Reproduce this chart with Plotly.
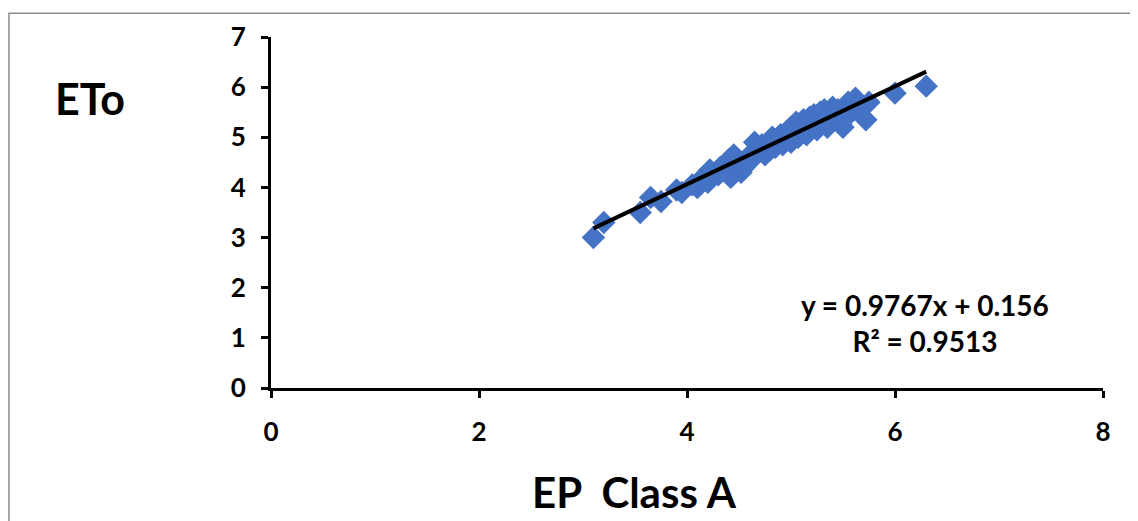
import plotly.graph_objects as go

# Data
ep_class_a = [3.10, 3.20, 3.55, 3.65, 3.75, 3.90, 3.95, 4.05, 4.10, 4.15, 4.20, 4.22, 4.30, 4.32,
              4.38, 4.40, 4.42, 4.45, 4.50, 4.52, 4.55, 4.58, 4.62, 4.65, 4.68, 4.70, 4.72, 4.75,
              4.78, 4.80, 4.82, 4.85, 4.88, 4.90, 4.92, 4.95, 4.97, 5.00, 5.00, 5.02, 5.05, 5.07,
              5.10, 5.12, 5.15, 5.18, 5.20, 5.22, 5.25, 5.28, 5.30, 5.32, 5.35, 5.38, 5.40, 5.42,
              5.45, 5.48, 5.50, 5.52, 5.55, 5.58, 5.62, 5.65, 5.72, 5.75, 6.00, 6.30]
eto = [3.00, 3.30, 3.50, 3.80, 3.72, 3.95, 3.90, 4.05, 4.00, 4.20, 4.10, 4.35, 4.25, 4.40,
       4.30, 4.55, 4.20, 4.65, 4.45, 4.30, 4.40, 4.60, 4.55, 4.90, 4.70, 4.75, 4.85, 4.65,
       4.90, 4.75, 5.00, 4.80, 4.95, 5.05, 4.85, 5.10, 4.95, 5.20, 4.90, 5.05, 5.30, 5.00,
       5.15, 5.35, 5.05, 5.40, 5.25, 5.45, 5.15, 5.50, 5.30, 5.55, 5.20, 5.45, 5.60, 5.35,
       5.55, 5.25, 5.20, 5.62, 5.70, 5.50, 5.78, 5.60, 5.35, 5.70, 5.88, 6.02]

slope = 0.9767
intercept = 0.156
trend_x = [min(ep_class_a), max(ep_class_a)]
trend_y = [slope * v + intercept for v in trend_x]

x_ticks = [0, 2, 4, 6, 8]
y_ticks = [0, 1, 2, 3, 4, 5, 6, 7]

FONT = "Lato"

fig = go.Figure()
fig.add_trace(go.Scatter(
    x=ep_class_a, y=eto, mode="markers",
    marker=dict(symbol="diamond", size=18, color="#4472C4", line=dict(width=0)),
    showlegend=False, hoverinfo="x+y"))
fig.add_trace(go.Scatter(
    x=trend_x, y=trend_y, mode="lines",
    line=dict(color="black", width=4), showlegend=False))

axis_common = dict(
    showgrid=False, zeroline=False, showline=True, linecolor="black", linewidth=3,
    ticks="outside", ticklen=7, tickwidth=3, tickcolor="black",
    tickfont=dict(family=FONT, size=26, color="black", weight="bold"),
)

fig.update_xaxes(range=[0, 8], tickvals=x_ticks, ticklabelstandoff=12, **axis_common)
fig.update_yaxes(range=[0, 7], tickvals=y_ticks, ticklabelstandoff=10, **axis_common)

fig.update_layout(
    width=1138, height=521,
    margin=dict(l=263, r=43, t=25, b=141),
    paper_bgcolor="white", plot_bgcolor="white",
    font=dict(family=FONT),
    annotations=[
        dict(text="<b>y = 0.9767x + 0.156<br>R² = 0.9513</b>", x=6.29, y=1.3,
             xref="x", yref="y", showarrow=False, align="center",
             font=dict(family=FONT, size=28, color="black")),
        dict(text="<b>ETo</b>", x=-0.2175, y=0.825, xref="paper", yref="paper",
             xanchor="center", yanchor="middle", showarrow=False,
             font=dict(family=FONT, size=43, color="black")),
        dict(text="<b>EP&nbsp;&nbsp;Class A</b>", x=0.437, y=-0.297, xref="paper", yref="paper",
             xanchor="center", yanchor="middle", showarrow=False,
             font=dict(family=FONT, size=42, color="black")),
    ],
    shapes=[
        dict(type="rect", xref="paper", yref="paper",
             x0=-0.315, x1=1.2, y0=-0.5, y1=1.0676,
             line=dict(color="#8c8c8c", width=1.5), fillcolor="rgba(0,0,0,0)", layer="below"),
    ],
)

fig.write_html("out.html")
